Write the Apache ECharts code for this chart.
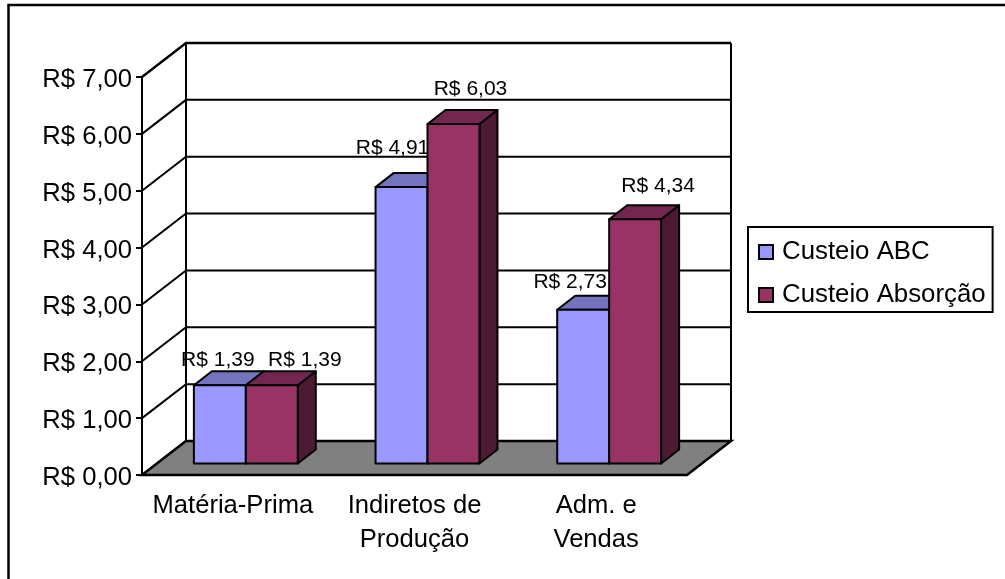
<!DOCTYPE html>
<html><head><meta charset="utf-8">
<style>html,body{margin:0;padding:0;background:#fff}#c{width:1005px;height:579px}</style>
<script src="https://cdn.jsdelivr.net/npm/echarts@6/dist/echarts.min.js"></script>
</head><body><div id="c"></div>
<script>
const categories = ['Matéria-Prima', 'Indiretos de\nProdução', 'Adm. e\nVendas'];
const seriesNames = ['Custeio ABC', 'Custeio Absorção'];
const custeioABC = [1.39, 4.91, 2.73];
const custeioAbsorcao = [1.39, 6.03, 4.34];
const yTicks = [0, 1, 2, 3, 4, 5, 6, 7];

// 3D look (pixel offsets of the fake projection)
const WALL = [44, -34], BAR_PLANE = [13, -11.5], BAR_DEPTH = [18, -14];
const BAR_RATIO = 0.286, BAR_SCALE = 0.99;
const FONT = '"Liberation Sans", Arial, sans-serif';
const money = v => 'R$ ' + v.toFixed(2).replace('.', ',');
const LABEL_NUDGE = [[[-2, -25], [33, -25]], [[-9, -39], [17, -35]], [[-13, -28], [23, -33]]];
const FACES = [['#9999FF', '#7373BF', '#4D4D80'], ['#993366', '#732650', '#4D1A33']];

function wallItem(params, api) {
  const v = api.value(0);
  const a = api.coord([0, v]);
  const w = api.size([1, 0])[0] * categories.length;
  a[0] -= api.size([1, 0])[0] / 2;
  const b = [a[0] + WALL[0], a[1] + WALL[1]];
  const c = [b[0] + w, b[1]];
  const children = [];
  const lw = v === 7 ? 2.5 : 2;
  const st = {stroke: '#000', lineWidth: lw, fill: null};
  children.push({type: 'polyline', shape: {points: [a, b, c]}, style: st, z2: 1});
  if (v === 0) {
    children.push({type: 'polygon', shape: {points: [a, b, c, [a[0] + w, a[1]]]},
      style: {fill: '#808080', stroke: '#000', lineWidth: 2.5}, z2: 2});
  }
  if (v === 7) {
    const f = api.coord([0, 0]);
    const bx = f[0] - api.size([1, 0])[0] / 2 + WALL[0], by = f[1] + WALL[1];
    children.push({type: 'line', shape: {x1: bx, y1: by, x2: bx, y2: b[1]}, style: {stroke: '#000', lineWidth: 2}});
    children.push({type: 'line', shape: {x1: bx + w, y1: by, x2: bx + w, y2: b[1]}, style: {stroke: '#000', lineWidth: 2}});
  }
  return {type: 'group', children};
}

function barItem(sIdx) {
  return function (params, api) {
    const cat = api.value(0), v = api.value(1);
    const catW = api.size([1, 0])[0];
    const bw = catW * BAR_RATIO;
    const top0 = api.coord([cat, v]), base0 = api.coord([cat, 0]);
    const y0 = base0[1] + BAR_PLANE[1];
    const y1 = y0 + (top0[1] - base0[1]) * BAR_SCALE;
    const x0 = base0[0] + BAR_PLANE[0] + (sIdx - 1) * bw;
    const x1 = x0 + bw;
    const dx = BAR_DEPTH[0], dy = BAR_DEPTH[1];
    const f = FACES[sIdx];
    const s = {stroke: '#000', lineWidth: 2, lineJoin: 'round'};
    const n = LABEL_NUDGE[cat][sIdx];
    return {type: 'group', children: [
      {type: 'polygon', shape: {points: [[x1, y1], [x1 + dx, y1 + dy], [x1 + dx, y0 + dy], [x1, y0]]}, style: {...s, fill: f[2]}},
      {type: 'polygon', shape: {points: [[x0, y1], [x0 + dx, y1 + dy], [x1 + dx, y1 + dy], [x1, y1]]}, style: {...s, fill: f[1]}},
      {type: 'rect', shape: {x: x0, y: y1, width: bw, height: y0 - y1}, style: {...s, fill: f[0]}},
      {type: 'text', style: {text: money(v), x: (x0 + x1) / 2 + n[0], y: y1 + n[1], align: 'center', verticalAlign: 'middle',
        font: '21px ' + FONT, fill: '#000'}}
    ]};
  };
}

const chart = echarts.init(document.getElementById('c'), null, {renderer: 'canvas'});
chart.setOption({
  animation: false,
  backgroundColor: '#fff',
  graphic: [{type: 'polyline', shape: {points: [[8.5, 600], [8.5, 5], [1020, 5]]},
    style: {fill: null, stroke: '#000', lineWidth: 2.5}, silent: true, z: -1}],
  grid: {left: 142, right: 318, top: 77, bottom: 104},
  legend: {
    left: 748, top: 227, orient: 'vertical',
    data: seriesNames.map((n, i) => ({name: n, icon: 'rect', itemStyle: {color: FACES[i][0], borderColor: '#000', borderWidth: 2}})),
    itemWidth: 14, itemHeight: 14, itemGap: 17, padding: [12, 7, 4, 10],
    borderColor: '#000', borderWidth: 2,
    textStyle: {fontFamily: FONT, fontSize: 25.8, color: '#000', padding: [0, 0, 0, 4]}
  },
  xAxis: {type: 'category', data: categories,
    axisLine: {lineStyle: {color: '#000', width: 2}},
    axisTick: {length: 7, lineStyle: {color: '#000', width: 2}},
    axisLabel: {color: '#000', fontFamily: FONT, fontSize: 25.6, lineHeight: 34, margin: 14, interval: 0}},
  yAxis: {type: 'value', min: 0, max: 7, interval: 1,
    axisLine: {show: true, lineStyle: {color: '#000', width: 2}},
    axisTick: {show: true, length: 6, lineStyle: {color: '#000', width: 2}},
    splitLine: {show: false},
    axisLabel: {color: '#000', margin: 10, formatter: v => '{t|' + money(v) + '}',
      rich: {t: {fontFamily: FONT, fontSize: 25.6, color: '#000', padding: [6, 0, 0, 0]}}}},
  series: [
    {type: 'custom', name: 'wall', data: yTicks.map(v => [v]), renderItem: wallItem, encode: {y: 0}, silent: true, z: 1, clip: false},
    {type: 'custom', name: seriesNames[0], data: custeioABC.map((v, i) => [i, v]), renderItem: barItem(0), encode: {x: 0, y: 1}, z: 3, clip: false, itemStyle: {color: FACES[0][0]}},
    {type: 'custom', name: seriesNames[1], data: custeioAbsorcao.map((v, i) => [i, v]), renderItem: barItem(1), encode: {x: 0, y: 1}, z: 4, clip: false, itemStyle: {color: FACES[1][0]}}
  ]
});
</script></body></html>
